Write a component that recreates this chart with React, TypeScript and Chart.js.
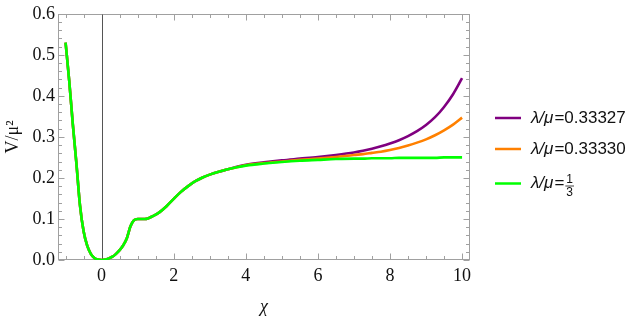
import React, { useEffect, useRef } from "react";
import { Chart, registerables } from "chart.js";

Chart.register(...registerables);

// ---- data ----
const chiValues = [
  -1, -0.9, -0.8, -0.7, -0.6, -0.5, -0.4, -0.3, -0.2, -0.1, 0, 0.1, 0.2, 0.3, 0.4, 0.5, 0.6, 0.7, 0.8, 0.9,
  1.0, 1.1, 1.2, 1.3, 1.4, 1.6, 1.8, 2.0, 2.2, 2.4, 2.6, 2.8, 3.0, 3.25, 3.5, 3.75, 4.0, 4.5, 5.0, 5.5,
  6.0, 6.5, 7.0, 7.25, 7.5, 7.75, 8.0, 8.25, 8.5, 8.75, 9.0, 9.25, 9.5, 9.75, 10,
];
const greenValues = [
  0.530, 0.438, 0.332, 0.236, 0.133, 0.070, 0.035, 0.015, 0.005, 0.0012, 0, 0.001, 0.004, 0.008, 0.015, 0.024, 0.036, 0.053, 0.082, 0.097,
  0.100, 0.100, 0.100, 0.102, 0.106, 0.116, 0.131, 0.149, 0.166, 0.180, 0.192, 0.201, 0.208, 0.215, 0.221, 0.226, 0.230, 0.235, 0.239, 0.242,
  0.244, 0.246, 0.247, 0.247, 0.248, 0.248, 0.248, 0.249, 0.249, 0.249, 0.249, 0.249, 0.250, 0.250, 0.250,
];
const orangeValues = [
  0.530, 0.438, 0.332, 0.236, 0.133, 0.070, 0.035, 0.015, 0.005, 0.0012, 0, 0.001, 0.004, 0.008, 0.015, 0.024, 0.036, 0.053, 0.082, 0.097,
  0.100, 0.100, 0.100, 0.102, 0.106, 0.116, 0.131, 0.149, 0.166, 0.180, 0.192, 0.201, 0.208, 0.215, 0.221, 0.226, 0.231, 0.236, 0.240, 0.244,
  0.247, 0.251, 0.256, 0.258, 0.261, 0.264, 0.268, 0.273, 0.279, 0.286, 0.294, 0.304, 0.316, 0.330, 0.347,
];
const purpleValues = [
  0.530, 0.438, 0.332, 0.236, 0.133, 0.070, 0.035, 0.015, 0.005, 0.0012, 0, 0.001, 0.004, 0.008, 0.015, 0.024, 0.036, 0.053, 0.082, 0.097,
  0.100, 0.100, 0.100, 0.102, 0.106, 0.116, 0.131, 0.149, 0.166, 0.180, 0.192, 0.201, 0.208, 0.215, 0.221, 0.227, 0.232, 0.238, 0.243, 0.247,
  0.251, 0.256, 0.262, 0.266, 0.271, 0.277, 0.284, 0.292, 0.302, 0.314, 0.329, 0.348, 0.373, 0.404, 0.443,
];
const seriesLabels = ["λ/μ=0.33327", "λ/μ=0.33330", "λ/μ=1/3"];
const seriesColors = ["#800080", "#ff8000", "#00ff00"];
const xTickValues = [0, 2, 4, 6, 8, 10];
const yTickValues = [0, 0.1, 0.2, 0.3, 0.4, 0.5, 0.6];
const xMinorStep = 0.5;
const yMinorStep = 0.02;
const xLimits = [-1.21, 10.22];
const yLimits = [0, 0.6];
const xTitle = "χ";
const yTitle = "V/μ²";

const frameColor = "#a0a0a0";
const axisColor = "#555555";

const framePlugin = {
  id: "frameTicks",
  beforeDatasetsDraw(chart: any) {
    const { ctx, chartArea, scales } = chart;
    const { left, right, top, bottom } = chartArea;
    const xs = scales.x;
    const ys = scales.y;
    ctx.save();
    ctx.lineWidth = 1;
    ctx.strokeStyle = frameColor;
    const L = Math.round(left) + 0.5;
    const R = Math.round(right) - 0.5;
    const T = Math.round(top) + 0.5;
    const B = Math.round(bottom) - 0.5;
    ctx.strokeRect(L, T, R - L, B - T);
    const nx0 = Math.ceil(xLimits[0] / xMinorStep);
    const nx1 = Math.floor(xLimits[1] / xMinorStep);
    for (let k = nx0; k <= nx1; k++) {
      const v = k * xMinorStep;
      const major = xTickValues.includes(v);
      const len = major ? 6 : 3.5;
      const px = Math.round(xs.getPixelForValue(v)) + 0.5;
      ctx.beginPath();
      ctx.moveTo(px, B);
      ctx.lineTo(px, B - len);
      ctx.moveTo(px, T);
      ctx.lineTo(px, T + len);
      ctx.stroke();
    }
    const ny1 = Math.round(yLimits[1] / yMinorStep);
    for (let k = 0; k <= ny1; k++) {
      const v = k * yMinorStep;
      const major = k % 5 === 0;
      const len = major ? 6 : 3.5;
      const py = Math.round(ys.getPixelForValue(v)) + 0.5;
      ctx.beginPath();
      ctx.moveTo(L, py);
      ctx.lineTo(L + len, py);
      ctx.moveTo(R, py);
      ctx.lineTo(R - len, py);
      ctx.stroke();
    }
    const ax = Math.round(xs.getPixelForValue(0)) + 0.5;
    ctx.strokeStyle = axisColor;
    ctx.beginPath();
    ctx.moveTo(ax, T);
    ctx.lineTo(ax, B);
    ctx.stroke();
    ctx.restore();
  },
};

const legendPlugin = {
  id: "customLegend",
  afterDraw(chart: any) {
    const { ctx } = chart;
    const rowsY = [118, 149, 183.5];
    const lineX0 = 495;
    const lineX1 = 521;
    const textX = 531;
    ctx.save();
    chart.data.datasets.forEach((ds: any, i: number) => {
      const y = rowsY[i];
      ctx.strokeStyle = ds.borderColor;
      ctx.lineWidth = 2.5;
      ctx.beginPath();
      ctx.moveTo(lineX0, y);
      ctx.lineTo(lineX1, y);
      ctx.stroke();
      const label: string = ds.label;
      const eq = label.indexOf("=");
      const head = label.slice(0, eq);
      const tail = label.slice(eq);
      ctx.fillStyle = "#111";
      ctx.textBaseline = "middle";
      ctx.textAlign = "left";
      ctx.font = "italic 17px 'Liberation Sans', Arial, sans-serif";
      ctx.fillText(head, textX, y);
      let x = textX + ctx.measureText(head).width + 1;
      ctx.font = "17px 'Liberation Sans', Arial, sans-serif";
      const frac = tail.match(/^=(\d+)\/(\d+)$/);
      if (frac) {
        ctx.fillText("=", x, y);
        x += ctx.measureText("=").width + 1;
        ctx.font = "12px 'Liberation Sans', Arial, sans-serif";
        const w = Math.max(ctx.measureText(frac[1]).width, ctx.measureText(frac[2]).width) + 2;
        ctx.textAlign = "center";
        ctx.fillText(frac[1], x + w / 2, y - 4);
        ctx.fillText(frac[2], x + w / 2, y + 9);
        ctx.strokeStyle = "#111";
        ctx.lineWidth = 0.8;
        ctx.beginPath();
        ctx.moveTo(x, y + 2.5);
        ctx.lineTo(x + w, y + 2.5);
        ctx.stroke();
      } else {
        ctx.fillText(tail, x, y);
      }
    });
    ctx.restore();
  },
};

export default function App() {
  const canvasRef = useRef<HTMLCanvasElement | null>(null);

  useEffect(() => {
    const canvas = canvasRef.current;
    if (!canvas) return;
    const seriesValues = [purpleValues, orangeValues, greenValues];
    const tickFont = { family: "'Liberation Serif', 'Times New Roman', serif", size: 18 };
    const chart = new Chart(canvas, {
      type: "line",
      data: {
        datasets: seriesValues.map((vals, i) => ({
          label: seriesLabels[i],
          data: chiValues.map((c, j) => ({ x: c, y: vals[j] })),
          borderColor: seriesColors[i],
          backgroundColor: seriesColors[i],
          borderWidth: 2.6,
          pointRadius: 0,
          fill: false,
          cubicInterpolationMode: "monotone",
          order: 2 - i,
        })),
      },
      options: {
        animation: false,
        responsive: false,
        devicePixelRatio: 1,
        layout: { padding: { top: 6, right: 157, left: 0, bottom: 0 } },
        plugins: {
          legend: { display: false },
          tooltip: { enabled: false },
        },
        scales: {
          x: {
            type: "linear",
            min: xLimits[0],
            max: xLimits[1],
            grid: { display: false, drawTicks: false },
            border: { display: false },
            afterBuildTicks: (s: any) => {
              s.ticks = xTickValues.map((v) => ({ value: v }));
            },
            afterFit: (s: any) => {
              s.height = 56;
            },
            ticks: {
              padding: 5,
              color: "#111",
              font: tickFont,
              maxRotation: 0,
              autoSkip: false,
              callback: (v: any) => String(v),
            },
            title: {
              display: true,
              text: xTitle,
              color: "#111",
              font: { family: "'Liberation Serif', 'Times New Roman', serif", size: 18, style: "italic" },
              padding: { top: 0, bottom: -2 },
            },
          },
          y: {
            type: "linear",
            min: yLimits[0],
            max: yLimits[1],
            grid: { display: false, drawTicks: false },
            border: { display: false },
            afterBuildTicks: (s: any) => {
              s.ticks = yTickValues.map((v) => ({ value: v }));
            },
            afterFit: (s: any) => {
              s.width = 58;
            },
            ticks: {
              padding: 3,
              color: "#111",
              font: tickFont,
              autoSkip: false,
              callback: (v: any) => Number(v).toFixed(1),
            },
            title: {
              display: true,
              text: yTitle,
              color: "#111",
              font: { family: "'Liberation Serif', 'Times New Roman', serif", size: 18 },
              padding: { top: 2, bottom: 0 },
            },
          },
        },
      },
      plugins: [framePlugin, legendPlugin],
    } as any);
    return () => chart.destroy();
  }, []);

  return (
    <div style={{ position: "absolute", left: 0, top: 0, width: 627, height: 316, background: "#fff" }}>
      <canvas ref={canvasRef} width={627} height={316} style={{ width: 627, height: 316, display: "block" }} />
    </div>
  );
}
